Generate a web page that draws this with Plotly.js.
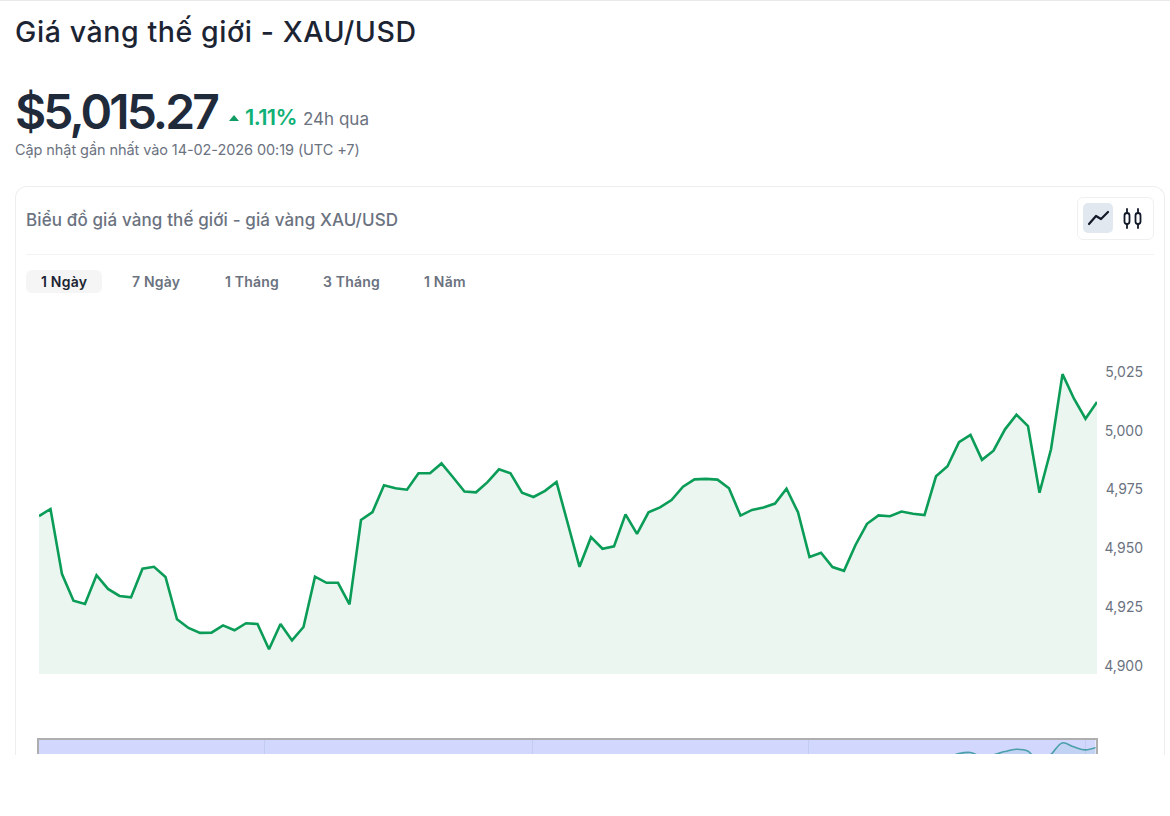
<!DOCTYPE html>
<html lang="vi">
<head>
<meta charset="utf-8">
<script src="https://cdn.plot.ly/plotly-3.0.1.min.js"></script>
<style>
html,body{margin:0;padding:0;background:#fff;width:1170px;height:816px;overflow:hidden;font-family:Inter,"Noto Sans",sans-serif}
.t{position:absolute;white-space:nowrap;line-height:1}
#topline{position:absolute;left:0;top:0;width:1170px;height:1px;background:#e9e9e9}
#card{position:absolute;left:15px;top:186px;width:1148px;height:568px;border:1px solid #eeeeee;border-bottom:none;border-radius:12px 12px 0 0}
#sep{position:absolute;left:26px;top:254px;width:1128px;height:1px;background:#f0f2f4}
#tabbg{position:absolute;left:26px;top:270px;width:76px;height:23px;background:#f5f5f5;border-radius:6px}
#group{position:absolute;left:1077px;top:197px;width:75px;height:41px;border:1px solid #f0f0f0;border-radius:6px}
#active{position:absolute;left:1083px;top:203px;width:30px;height:30px;background:#e2e8f0;border-radius:5px}
#tri{position:absolute;left:229px;top:115px;width:0;height:0;border-left:5.5px solid transparent;border-right:5.5px solid transparent;border-bottom:6.5px solid #0f9d63}
#plot{position:absolute;left:0;top:0;width:1170px;height:754px}
svg.ic{position:absolute;left:0;top:0}
</style>
</head>
<body>
<div id="topline"></div>
<div id="card"></div>
<div id="sep"></div>
<div id="tabbg"></div>
<div id="group"></div>
<div id="active"></div>
<div id="tri"></div>
<svg class="ic" width="1170" height="300" fill="none" stroke="#111827" stroke-width="1.8" stroke-linecap="round" stroke-linejoin="round">
  <polyline points="1089,224 1096,216 1101,219 1108,212" stroke-width="2.2"/>
  <path d="M1127 209v4M1127 224v4M1138 209v4M1138 224v4"/>
  <rect x="1124.5" y="213" width="5" height="11" rx="2.5"/>
  <rect x="1135.5" y="213" width="5" height="11" rx="2.5"/>
</svg>

<div class="t" style="left:15px;top:18px;font-size:28.5px;font-weight:500;letter-spacing:.6px;color:#1c2433">Giá vàng thế giới - XAU/USD</div>
<div class="t" style="left:15px;top:88px;font-size:48px;font-weight:600;letter-spacing:-2.9px;color:#1f2a3a">$5,015.27</div>
<div class="t" style="left:245px;top:106px;font-size:22px;font-weight:600;letter-spacing:-.6px;color:#10b077">1.11%</div>
<div class="t" style="left:303px;top:111px;font-size:17px;color:#6b7280">24h qua</div>
<div class="t" style="left:15px;top:143px;font-size:14.5px;letter-spacing:-.08px;color:#6b7280">Cập nhật gần nhất vào 14-02-2026 00:19 (UTC +7)</div>
<div class="t" style="left:26px;top:212px;font-size:17px;font-weight:500;letter-spacing:.12px;color:#6b7280">Biểu đồ giá vàng thế giới - giá vàng XAU/USD</div>
<div class="t" style="left:41px;top:275px;font-size:14px;font-weight:600;letter-spacing:.2px;color:#1c2433">1 Ngày</div>
<div class="t" style="left:132px;top:275px;font-size:14px;font-weight:600;letter-spacing:.2px;color:#6b7280">7 Ngày</div>
<div class="t" style="left:225px;top:275px;font-size:14px;font-weight:600;letter-spacing:.2px;color:#6b7280">1 Tháng</div>
<div class="t" style="left:323px;top:275px;font-size:14px;font-weight:600;letter-spacing:.2px;color:#6b7280">3 Tháng</div>
<div class="t" style="left:424px;top:275px;font-size:14px;font-weight:600;letter-spacing:.2px;color:#6b7280">1 Năm</div>

<div id="plot"></div>
<script>
const prices = [4963.7,4966.7,4939.0,4927.7,4926.3,4938.5,4932.7,4929.7,4929.1,4941.3,4942.1,4937.8,4919.8,4916.1,4914.0,4914.1,4917.2,4915.1,4918.1,4917.8,4907.0,4917.8,4910.8,4916.5,4937.9,4935.3,4935.3,4926.1,4962.0,4965.4,4976.8,4975.5,4974.9,4981.9,4981.9,4986.1,4980.2,4974.1,4973.8,4978.1,4983.6,4981.9,4973.6,4971.8,4974.4,4978.2,4960.2,4942.1,4954.7,4949.8,4950.8,4964.4,4956.1,4965.3,4967.4,4970.5,4976.2,4979.3,4979.5,4979.2,4975.5,4963.9,4966.3,4967.3,4969.0,4975.3,4965.3,4946.3,4948.1,4942.0,4940.4,4951.4,4960.4,4964.0,4963.6,4965.6,4964.7,4964.1,4980.6,4984.9,4995.1,4998.2,4987.6,4991.5,5000.6,5006.8,5002.0,4973.6,4992.1,5024.1,5013.6,5005.1,5012.2];
const steps = prices.map((_, i) => i);
const yTicks = [4900,4925,4950,4975,5000,5025];
const sliderGridSteps = [19.65,42.96,66.96,91];

const W = 1170, H = 754;
const xDom = [39/W, 1097/W];
const mainY = [(H-674)/H, (H-340)/H];
const miniY = [0, (H-740)/H];

const traces = [
  {x:steps, y:prices, type:'scatter', mode:'lines', xaxis:'x', yaxis:'y',
   line:{color:'#0b9d58', width:2.6, shape:'linear'}, fill:'tozeroy', fillcolor:'#ebf6f1', hoverinfo:'skip'},
  {x:steps, y:prices, type:'scatter', mode:'lines', xaxis:'x2', yaxis:'y2',
   line:{color:'#4a9fa8', width:1.6, shape:'spline', smoothing:1}, fill:'tozeroy', fillcolor:'rgba(120,190,190,0.18)', hoverinfo:'skip'}
];
const layout = {
  width:W, height:H, margin:{l:0,r:0,t:0,b:0},
  paper_bgcolor:'rgba(0,0,0,0)', plot_bgcolor:'rgba(0,0,0,0)', showlegend:false,
  font:{family:'Inter, "Noto Sans", sans-serif'},
  xaxis:{domain:xDom, range:[0,92], anchor:'y', visible:false, fixedrange:true},
  yaxis:{domain:mainY, range:[4896.5,5038.6], anchor:'free', position:1143/W, side:'left',
         tickvals:yTicks, ticktext:yTicks.map(v=>v.toLocaleString('en-US')), ticks:'', showgrid:false, zeroline:false,
         showline:false, tickfont:{size:14,color:'#6b7280'}, fixedrange:true},
  xaxis2:{domain:[39/W,1095.5/W], range:[0,91.9], anchor:'y2', side:'top', showline:true, linecolor:'#aeaeae', linewidth:2,
          ticks:'', showticklabels:false, tickvals:sliderGridSteps, showgrid:true, gridcolor:'#c3cdf0', gridwidth:1, zeroline:false, fixedrange:true},
  yaxis2:{domain:miniY, range:[4994,5032], anchor:'x2', showline:true, mirror:true, linecolor:'#aeaeae', linewidth:2,
          showticklabels:false, ticks:'', showgrid:false, zeroline:false, fixedrange:true},
  shapes:[{type:'rect', xref:'x2 domain', yref:'y2 domain', x0:0, x1:1, y0:0, y1:1, fillcolor:'#d2d7fe', line:{width:0}, layer:'below'}]
};
Plotly.newPlot('plot', traces, layout, {displayModeBar:false, staticPlot:true});
</script>
</body>
</html>
